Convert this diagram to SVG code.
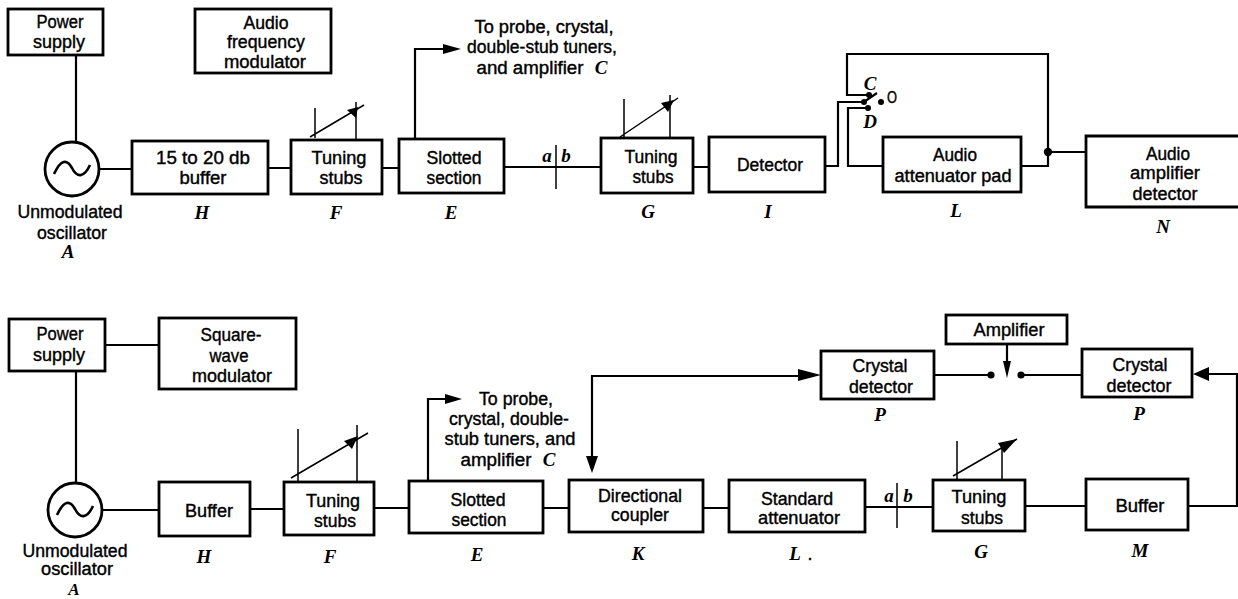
<svg xmlns="http://www.w3.org/2000/svg" width="1238" height="599" viewBox="0 0 1238 599">
<style>
.b{fill:#fff;stroke:#000;stroke-width:2.8}
.l{fill:none;stroke:#000;stroke-width:2.2}
.t{stroke:#000;stroke-width:1.5;fill:none}
text{font-family:"Liberation Sans",Arial,sans-serif;font-size:18px;fill:#000;text-anchor:middle;stroke:#000;stroke-width:.4}
text.i{font-family:"Liberation Serif","Times New Roman",serif;font-style:italic;font-weight:bold;font-size:19px;stroke:none}
</style>
<defs>
<path id="wave" d="M-18 5C-11 -10 -5 -10 0 -1C5 9 12 9 18 -4" fill="none" stroke="#000" stroke-width="2.6"/>
</defs>
<rect width="1238" height="599" fill="#fff"/>
<g id="connectors">
<path class="l" d="M76 55V141M100 169H132M268 168H291M382 168H399M504 167H601M693 167H709"/>
<path class="l" d="M415 138V49H445"/><path d="M443 44L461 49L443 54Z"/>
<path class="l" d="M825 166H838V102H864L877 93"/>
<path class="l" d="M869 95H847V54H1048V166H1021"/>
<path class="l" d="M868 108H848V166H883"/>
<path class="l" d="M1048 152H1086"/>
<circle cx="864" cy="102" r="3"/><circle cx="869" cy="95" r="3"/><circle cx="868" cy="108" r="3"/><circle cx="881" cy="102" r="3"/><circle cx="1048" cy="152" r="4.2"/>
<path class="t" d="M556 145V189"/>
<path class="t" d="M315 108V138M356 102V139M310 137L364 105"/><path d="M347 110L358 107L356 118Z"/>
<path class="t" d="M624 99V138M670 95V138M620 137L678 98"/><path d="M661 103L674 100L668 112Z"/>
<path class="l" d="M76 371V483M105 345H159M102 510H159M250 509H284M374 508H409M543 508H569M703 508H729M865 507H933M1025 506H1086"/>
<path class="l" d="M428 481V399H447"/><path d="M445 394L462 399L445 404Z"/>
<path class="l" d="M592 460V376H800"/><path d="M586 456L598 456L592 473Z"/><path d="M798 369L821 375L798 381Z"/>
<path class="l" d="M934 375H989M1024 375H1082"/><circle cx="991" cy="375" r="3.6"/><circle cx="1021" cy="375" r="3.6"/>
<path class="l" d="M1007 344V364"/><path d="M1003 361L1011 361L1007 378Z"/>
<path class="l" d="M1188 506H1237V374H1207"/><path d="M1209 367L1193 374L1209 381Z"/>
<path class="t" d="M897 483V528"/>
<path class="t" d="M298 429V482M357 425V482M291 478L368 433"/><path d="M344 441L358 436L352 449Z"/>
<path class="t" d="M957 441V480M1002 447V480M953 476L1017 439"/><path d="M998 443L1017 439L1004 453Z"/>
</g>
<g id="n1-power"><rect class="b" x="8" y="9" width="95" height="46"/><text x="60" y="28" textLength="47" lengthAdjust="spacingAndGlyphs">Power</text><text x="59" y="48" textLength="52" lengthAdjust="spacingAndGlyphs">supply</text></g>
<g id="n1-modulator"><rect class="b" x="195" y="9" width="136" height="64"/><text x="266" y="29" textLength="45" lengthAdjust="spacingAndGlyphs">Audio</text><text x="266" y="48" textLength="78" lengthAdjust="spacingAndGlyphs">frequency</text><text x="265" y="68" textLength="82" lengthAdjust="spacingAndGlyphs">modulator</text></g>
<g id="n1-note"><text x="544" y="33" textLength="139" lengthAdjust="spacingAndGlyphs">To probe, crystal,</text><text x="542" y="53" textLength="150" lengthAdjust="spacingAndGlyphs">double-stub tuners,</text><text x="530" y="74" textLength="107" lengthAdjust="spacingAndGlyphs">and amplifier</text><text class="i" x="601" y="74">C</text></g>
<g id="n1-osc"><circle class="b" cx="72" cy="169" r="27"/><use href="#wave" x="72" y="169"/><text x="70" y="218" textLength="105" lengthAdjust="spacingAndGlyphs">Unmodulated</text><text x="72" y="239" textLength="70" lengthAdjust="spacingAndGlyphs">oscillator</text><text class="i" x="68" y="258">A</text></g>
<g id="n1-H"><rect class="b" x="132" y="141" width="136" height="53"/><text x="203" y="164" textLength="94" lengthAdjust="spacingAndGlyphs">15 to 20 db</text><text x="203" y="184" textLength="47" lengthAdjust="spacingAndGlyphs">buffer</text><text class="i" x="202" y="219">H</text></g>
<g id="n1-F"><rect class="b" x="291" y="140" width="91" height="54"/><text x="339" y="164" textLength="55" lengthAdjust="spacingAndGlyphs">Tuning</text><text x="341" y="184" textLength="43" lengthAdjust="spacingAndGlyphs">stubs</text><text class="i" x="336" y="219">F</text></g>
<g id="n1-E"><rect class="b" x="399" y="139" width="105" height="54"/><text x="454" y="164" textLength="55" lengthAdjust="spacingAndGlyphs">Slotted</text><text x="454" y="184" textLength="55" lengthAdjust="spacingAndGlyphs">section</text><text class="i" x="451" y="219">E</text></g>
<g id="n1-ab"><text class="i" x="547" y="162">a</text><text class="i" x="566" y="162">b</text></g>
<g id="n1-G"><rect class="b" x="601" y="138" width="92" height="55"/><text x="651" y="163" textLength="53" lengthAdjust="spacingAndGlyphs">Tuning</text><text x="653" y="183" textLength="41" lengthAdjust="spacingAndGlyphs">stubs</text><text class="i" x="648" y="218">G</text></g>
<g id="n1-I"><rect class="b" x="709" y="137" width="116" height="55"/><text x="770" y="171" textLength="66" lengthAdjust="spacingAndGlyphs">Detector</text><text class="i" x="768" y="218">I</text></g>
<g id="n1-switch"><text class="i" x="870" y="90">C</text><text class="i" x="870" y="128">D</text><text x="892" y="103" textLength="10" lengthAdjust="spacingAndGlyphs" style="font-size:16px">O</text></g>
<g id="n1-L"><rect class="b" x="883" y="137" width="138" height="55"/><text x="955" y="161" textLength="44" lengthAdjust="spacingAndGlyphs">Audio</text><text x="953" y="182" textLength="117" lengthAdjust="spacingAndGlyphs">attenuator pad</text><text class="i" x="956" y="217">L</text></g>
<g id="n1-N"><path class="b" d="M1240 136H1086V207H1240"/><text x="1168" y="160" textLength="44" lengthAdjust="spacingAndGlyphs">Audio</text><text x="1165" y="179" textLength="70" lengthAdjust="spacingAndGlyphs">amplifier</text><text x="1165" y="200" textLength="65" lengthAdjust="spacingAndGlyphs">detector</text><text class="i" x="1163" y="233">N</text></g>

<g id="n2-power"><rect class="b" x="9" y="319" width="96" height="52"/><text x="60" y="340" textLength="47" lengthAdjust="spacingAndGlyphs">Power</text><text x="59" y="361" textLength="52" lengthAdjust="spacingAndGlyphs">supply</text></g>
<g id="n2-modulator"><rect class="b" x="159" y="318" width="137" height="71"/><text x="231" y="341" textLength="61" lengthAdjust="spacingAndGlyphs">Square-</text><text x="229" y="362" textLength="39" lengthAdjust="spacingAndGlyphs">wave</text><text x="232" y="382" textLength="80" lengthAdjust="spacingAndGlyphs">modulator</text></g>
<g id="n2-osc"><circle class="b" cx="75" cy="510" r="27"/><use href="#wave" x="75" y="510"/><text x="75" y="557" textLength="105" lengthAdjust="spacingAndGlyphs">Unmodulated</text><text x="77" y="575" textLength="72" lengthAdjust="spacingAndGlyphs">oscillator</text><text class="i" x="74" y="595" style="font-size:17px">A</text></g>
<g id="n2-H"><rect class="b" x="159" y="482" width="91" height="54"/><text x="209" y="517" textLength="48" lengthAdjust="spacingAndGlyphs">Buffer</text><text class="i" x="204" y="563">H</text></g>
<g id="n2-F"><rect class="b" x="284" y="482" width="90" height="53"/><text x="333" y="507" textLength="54" lengthAdjust="spacingAndGlyphs">Tuning</text><text x="335" y="527" textLength="42" lengthAdjust="spacingAndGlyphs">stubs</text><text class="i" x="330" y="563">F</text></g>
<g id="n2-E"><rect class="b" x="409" y="481" width="134" height="52"/><text x="478" y="506" textLength="55" lengthAdjust="spacingAndGlyphs">Slotted</text><text x="479" y="526" textLength="55" lengthAdjust="spacingAndGlyphs">section</text><text class="i" x="477" y="561">E</text></g>
<g id="n2-note"><text x="516" y="405" textLength="74" lengthAdjust="spacingAndGlyphs">To probe,</text><text x="509" y="425" textLength="120" lengthAdjust="spacingAndGlyphs">crystal, double-</text><text x="510" y="445" textLength="131" lengthAdjust="spacingAndGlyphs">stub tuners, and</text><text x="496" y="466" textLength="71" lengthAdjust="spacingAndGlyphs">amplifier</text><text class="i" x="549" y="466">C</text></g>
<g id="n2-K"><rect class="b" x="569" y="480" width="134" height="52"/><text x="640" y="502" textLength="84" lengthAdjust="spacingAndGlyphs">Directional</text><text x="640" y="521" textLength="58" lengthAdjust="spacingAndGlyphs">coupler</text><text class="i" x="638" y="560">K</text></g>
<g id="n2-L"><rect class="b" x="729" y="480" width="136" height="52"/><text x="797" y="505" textLength="72" lengthAdjust="spacingAndGlyphs">Standard</text><text x="799" y="524" textLength="82" lengthAdjust="spacingAndGlyphs">attenuator</text><text class="i" x="795" y="560">L</text><text x="810" y="560">.</text></g>
<g id="n2-ab"><text class="i" x="889" y="502">a</text><text class="i" x="908" y="502">b</text></g>
<g id="n2-G"><rect class="b" x="933" y="480" width="92" height="51"/><text x="979" y="503" textLength="55" lengthAdjust="spacingAndGlyphs">Tuning</text><text x="982" y="524" textLength="42" lengthAdjust="spacingAndGlyphs">stubs</text><text class="i" x="981" y="558">G</text></g>
<g id="n2-M"><rect class="b" x="1086" y="479" width="102" height="51"/><text x="1140" y="512" textLength="49" lengthAdjust="spacingAndGlyphs">Buffer</text><text class="i" x="1140" y="557">M</text></g>
<g id="n2-P1"><rect class="b" x="821" y="351" width="113" height="48"/><text x="880" y="372" textLength="55" lengthAdjust="spacingAndGlyphs">Crystal</text><text x="881" y="393" textLength="64" lengthAdjust="spacingAndGlyphs">detector</text><text class="i" x="880" y="421">P</text></g>
<g id="n2-P2"><rect class="b" x="1082" y="349" width="110" height="48"/><text x="1140" y="371" textLength="55" lengthAdjust="spacingAndGlyphs">Crystal</text><text x="1139" y="392" textLength="65" lengthAdjust="spacingAndGlyphs">detector</text><text class="i" x="1139" y="420">P</text></g>
<g id="n2-amp"><rect class="b" x="946" y="315" width="121" height="29"/><text x="1009" y="336" textLength="71" lengthAdjust="spacingAndGlyphs">Amplifier</text></g>
</svg>
